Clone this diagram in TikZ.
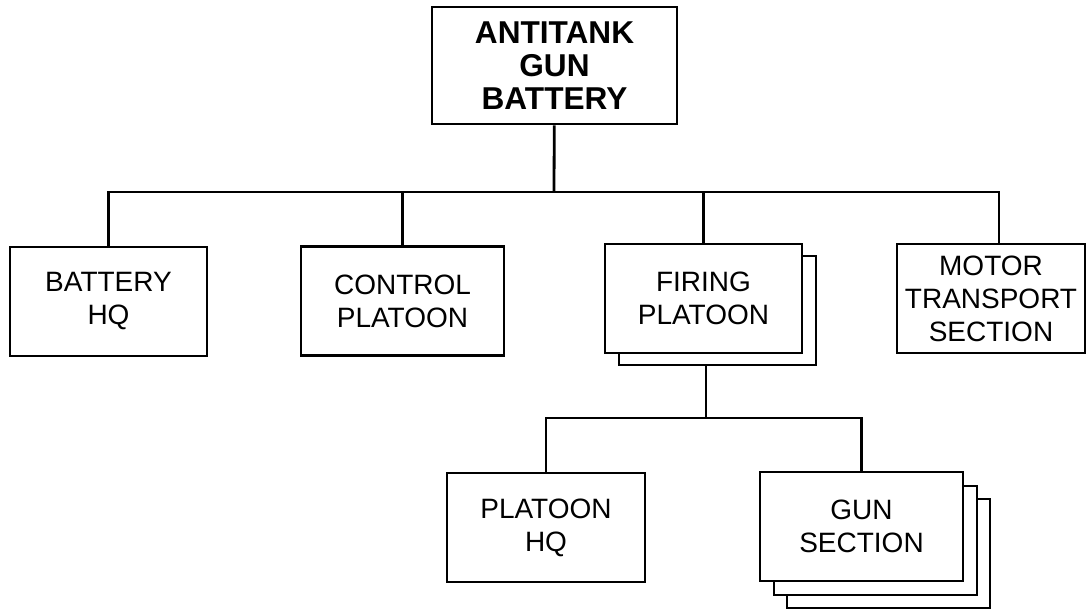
\documentclass[tikz,border=0pt]{standalone}
\usepackage{fontspec}
\setmainfont{Liberation Sans}
\usepackage{tikz}
\usetikzlibrary{positioning,calc}

\begin{document}
\begin{tikzpicture}[
    x=0.5pt, y=-0.5pt,
    unit/.style={draw, line width=1.4pt, fill=white, minimum width=#1, minimum height=54.5pt, align=center, font=\fontsize{14}{16.5}\selectfont, inner sep=0pt},
    link/.style={line width=1.4pt},
]
\useasboundingbox (0,0) rectangle (1086,609);

\node[unit=122.5pt, minimum height=58.5pt, font=\fontsize{15.8}{16.4}\selectfont\bfseries] (top) at (554.5,65.5) {ANTITANK\\GUN\\BATTERY};

\node[unit=98.5pt] (bhq) at (108.5,301.5) {BATTERY\\HQ};
\node[unit=101.5pt] (ctl) at (402.5,301) {CONTROL\\PLATOON};
\node[unit=98.5pt] (fire2) at (717.5,310.5) {};
\node[unit=98.5pt] (fire) at (703.5,298.5) {FIRING\\PLATOON};
\node[unit=94pt] (mts) at (991,298.5) {MOTOR\\TRANSPORT\\SECTION};

\node[unit=99pt] (phq) at (546,527.5) {PLATOON\\HQ};
\node[unit=101.5pt] (gun3) at (888.5,553.5) {};
\node[unit=101.5pt] (gun2) at (875.5,540.5) {};
\node[unit=101.5pt] (gun) at (861.5,526.5) {GUN\\SECTION};

\coordinate (bus) at (554,192);
\coordinate (mtsdrop) at (999,192);
\coordinate (fbus) at (706,418);

\draw[link] (top) -- (bus);
\draw[link] (bhq.north) |- (mtsdrop) -- (mtsdrop |- mts.north);
\foreach \n in {ctl,fire} {
    \draw[link] (\n.north) -- (\n.north |- bus);
}
\draw[link] (fire2.south -| fbus) -- (fbus);
\draw[link] (phq.north) |- (fbus) -| (gun.north);
\end{tikzpicture}
\end{document}
